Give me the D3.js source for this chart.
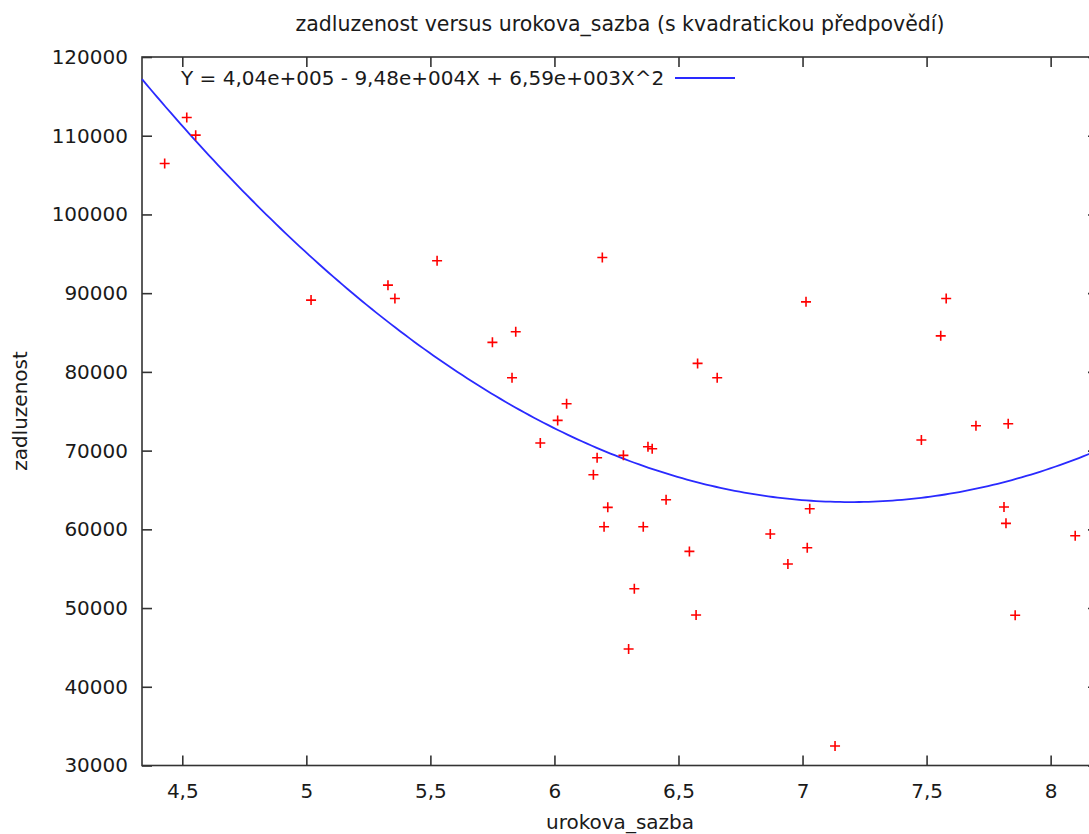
<!DOCTYPE html>
<html>
<head>
<meta charset="utf-8">
<script src="https://cdn.jsdelivr.net/npm/d3@7"></script>
<style>
  html, body { margin: 0; padding: 0; background: #fff; overflow: hidden; }
  svg { display: block; }
  .chart-text { font-family: "DejaVu Sans", Verdana, sans-serif; fill: #1a1a1a; }
</style>
</head>
<body>
<div id="chart"></div>
<script>
// urokova_sazba (x) and zadluzenost (y)
const urokovaSazba = [
  4.429, 4.518, 4.554, 5.019, 5.329, 5.357, 5.527, 5.750, 5.844, 5.829,
  5.943, 6.013, 6.049, 6.193, 6.172, 6.157, 6.278, 6.377, 6.394, 6.215,
  6.200, 6.358, 6.450, 6.322, 6.299, 6.544, 6.571, 6.577, 6.656, 6.870,
  6.941, 7.019, 7.029, 7.014, 7.131, 7.479, 7.557, 7.579, 7.699, 7.829,
  7.812, 7.820, 7.857, 8.099
];
const zadluzenost = [
  106480, 112320, 110070, 89120, 91020, 89330, 94110, 83750, 85090, 79250,
  70960, 73840, 75950, 94540, 69090, 66930, 69400, 70490, 70230, 62790,
  60330, 60330, 63760, 52450, 44800, 57200, 49110, 81080, 79250, 59400,
  55590, 57660, 62610, 88900, 32480, 71340, 84580, 89330, 73150, 73410,
  62830, 60760, 49080, 59180
];

// quadratic prediction: Y = a + bX + cX^2 (a within rounding of 4,04e+005)
const coefficients = [404400, -94800, 6590];
const legendLabel = 'Y = 4,04e+005 - 9,48e+004X + 6,59e+003X^2';

const xTicks = [4.5, 5, 5.5, 6, 6.5, 7, 7.5, 8];
const yTicks = [30000, 40000, 50000, 60000, 70000, 80000, 90000, 100000, 110000, 120000];
const xDomain = [4.3376, 8.1909];
const yDomain = [30000, 120000];

const titleText = 'zadluzenost versus urokova_sazba (s kvadratickou předpovědí)';
const xLabelText = 'urokova_sazba';
const yLabelText = 'zadluzenost';

// Layout (plot runs past the right edge, as in the original crop)
const CONFIG = {
  width: 1089,
  height: 834,
  left: 142,
  top: 57,
  right: 1098,
  bottom: 765.5,
  tickLength: 10,
  fontSize: 20,
  titleSize: 20.5,
  markerHalf: 5
};

const czLocale = d3.formatLocale({ decimal: ',', thousands: '', grouping: [3], currency: ['', ''] });

/**
 * Build the whole chart
 */
function drawChart() {
  const svg = d3.select('#chart')
    .append('svg')
    .attr('width', CONFIG.width)
    .attr('height', CONFIG.height);

  const x = d3.scaleLinear().domain(xDomain).range([CONFIG.left, CONFIG.right]);
  const y = d3.scaleLinear().domain(yDomain).range([CONFIG.bottom, CONFIG.top]);

  drawAxes(svg, x, y);
  drawCurve(svg, x, y);
  drawPoints(svg, x, y);
  drawLegend(svg);
  drawLabels(svg);
}

/**
 * Border with inward ticks on all four sides
 */
function drawAxes(svg, x, y) {
  const t = CONFIG.tickLength;

  const bottom = svg.append('g')
    .attr('transform', `translate(0,${CONFIG.bottom})`)
    .call(d3.axisBottom(x).tickValues(xTicks).tickSize(-t).tickPadding(18.5)
      .tickFormat(czLocale.format('~g')));
  const top = svg.append('g')
    .attr('transform', `translate(0,${CONFIG.top})`)
    .call(d3.axisTop(x).tickValues(xTicks).tickSize(-t).tickFormat(''));
  const left = svg.append('g')
    .attr('transform', `translate(${CONFIG.left},0)`)
    .call(d3.axisLeft(y).tickValues(yTicks).tickSize(-t).tickPadding(14)
      .tickFormat(d3.format('d')));
  const right = svg.append('g')
    .attr('transform', `translate(${CONFIG.right},0)`)
    .call(d3.axisRight(y).tickValues(yTicks).tickSize(-t).tickFormat(''));

  [bottom, top, left, right].forEach(g => {
    g.select('.domain').remove();
    g.selectAll('line').attr('stroke', '#333').attr('stroke-width', 1.6);
    g.selectAll('text')
      .attr('class', 'chart-text')
      .attr('font-size', CONFIG.fontSize)
      .attr('fill', '#1a1a1a');
  });

  svg.append('rect')
    .attr('x', CONFIG.left)
    .attr('y', CONFIG.top)
    .attr('width', CONFIG.right - CONFIG.left)
    .attr('height', CONFIG.bottom - CONFIG.top)
    .attr('fill', 'none')
    .attr('stroke', '#333')
    .attr('stroke-width', 1.6);
}

/**
 * Fitted quadratic line
 */
function drawCurve(svg, x, y) {
  const [a, b, c] = coefficients;
  const steps = d3.range(0, 201).map(i => xDomain[0] + (xDomain[1] - xDomain[0]) * i / 200);
  const line = d3.line()
    .x(d => x(d))
    .y(d => y(a + b * d + c * d * d));

  svg.append('path')
    .datum(steps)
    .attr('d', line)
    .attr('fill', 'none')
    .attr('stroke', '#2a2aff')
    .attr('stroke-width', 1.8);
}

/**
 * Red plus markers for observations
 */
function drawPoints(svg, x, y) {
  const h = CONFIG.markerHalf;
  const pts = urokovaSazba.map((v, i) => [v, zadluzenost[i]]);

  svg.append('g')
    .selectAll('path')
    .data(pts)
    .enter()
    .append('path')
    .attr('d', d => {
      const px = x(d[0]), py = y(d[1]);
      return `M${px - h},${py}H${px + h}M${px},${py - h}V${py + h}`;
    })
    .attr('stroke', '#ff0000')
    .attr('stroke-width', 1.6)
    .attr('fill', 'none');
}

/**
 * Key in the top left corner
 */
function drawLegend(svg) {
  svg.append('text')
    .attr('class', 'chart-text')
    .attr('x', 181)
    .attr('y', 78)
    .attr('dy', '0.35em')
    .attr('font-size', CONFIG.fontSize)
    .text(legendLabel);

  svg.append('line')
    .attr('x1', 675)
    .attr('x2', 735)
    .attr('y1', 78)
    .attr('y2', 78)
    .attr('stroke', '#2a2aff')
    .attr('stroke-width', 1.8);
}

/**
 * Title and axis titles
 */
function drawLabels(svg) {
  const cx = (CONFIG.left + CONFIG.right) / 2;

  svg.append('text')
    .attr('class', 'chart-text')
    .attr('x', cx)
    .attr('y', 31)
    .attr('text-anchor', 'middle')
    .attr('font-size', CONFIG.titleSize)
    .text(titleText);

  svg.append('text')
    .attr('class', 'chart-text')
    .attr('x', cx)
    .attr('y', 829)
    .attr('text-anchor', 'middle')
    .attr('font-size', CONFIG.fontSize)
    .text(xLabelText);

  svg.append('text')
    .attr('class', 'chart-text')
    .attr('transform', 'translate(27,411) rotate(-90)')
    .attr('text-anchor', 'middle')
    .attr('font-size', CONFIG.fontSize)
    .text(yLabelText);
}

drawChart();
</script>
</body>
</html>
